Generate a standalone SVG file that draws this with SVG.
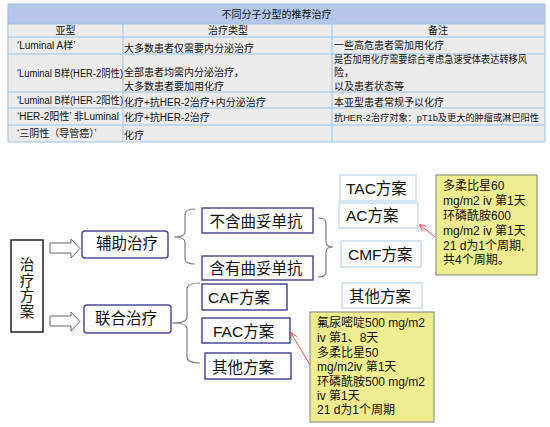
<svg xmlns="http://www.w3.org/2000/svg" width="550" height="427" viewBox="0 0 550 427">
<defs>
<style>
.t{font-family:"Liberation Sans","Noto Sans CJK SC",sans-serif;font-size:10px;fill:#111}
.t9{font-family:"Liberation Sans","Noto Sans CJK SC",sans-serif;font-size:9px;fill:#111}
.b{font-family:"Liberation Sans","Noto Sans CJK SC",sans-serif;font-size:15.5px;fill:#111}
.v{font-family:"Liberation Sans","Noto Sans CJK SC",sans-serif;font-size:14.5px;fill:#111}
.n{font-family:"Liberation Sans","Noto Sans CJK SC",sans-serif;font-size:12px;fill:#111}
.grid{stroke:#9dc3e6;stroke-width:1;fill:none}
.nb{fill:#fff;stroke:#4b4b9b;stroke-width:1.5}
.lb{fill:#fff;stroke:#c9dcf2;stroke-width:1.5}
.note{fill:#eeee90;stroke:#808080;stroke-width:1}
.br{fill:none;stroke:#7f7f7f;stroke-width:1.2}
.ha{fill:#fff;stroke:#666;stroke-width:1}
.ra{stroke:#ff4a4a;stroke-width:1;fill:none;marker-end:url(#rh)}
</style>
<marker id="rh" viewBox="0 0 10 10" refX="9" refY="5" markerWidth="7" markerHeight="7" orient="auto">
<path d="M0,0 L10,5 L0,10" fill="none" stroke="#ff4a4a" stroke-width="1.3"/>
</marker>
</defs>
<rect width="550" height="427" fill="#fff"/>
<g id="table">
<rect x="8" y="4" width="537" height="20" fill="#b4c7e7"/>
<rect x="8" y="24" width="537" height="118" fill="#ececec"/>
<path class="grid" d="M8,4H545V142H8Z M8,24H545 M8,37H545 M8,54H545 M8,92H545 M8,108H545 M8,125H545 M123,24V142 M332,24V142"/>
<text class="t" x="276.5" y="18" text-anchor="middle">不同分子分型的推荐治疗</text>
<text class="t" x="65.5" y="34" text-anchor="middle">亚型</text>
<text class="t" x="228" y="34" text-anchor="middle">治疗类型</text>
<text class="t" x="438" y="34" text-anchor="middle">备注</text>
<text class="t" x="17" y="49">‘Luminal A样’</text>
<text class="t" x="124" y="52">大多数患者仅需要内分泌治疗</text>
<text class="t" x="334" y="49">一些高危患者需加用化疗</text>
<text class="t" x="17" y="77" textLength="106" lengthAdjust="spacingAndGlyphs">‘Luminal B样(HER-2阴性)</text>
<text class="t" x="124" y="76">全部患者均需内分泌治疗，</text>
<text class="t" x="124" y="90">大多数患者要加用化疗</text>
<text class="t" x="334" y="63" textLength="193" lengthAdjust="spacingAndGlyphs">是否加用化疗需要综合考虑急速受体表达转移风</text>
<text class="t" x="334" y="76">险，</text>
<text class="t" x="334" y="90">以及患者状态等</text>
<text class="t" x="17" y="104" textLength="106" lengthAdjust="spacingAndGlyphs">‘Luminal B样(HER-2阳性)</text>
<text class="t" x="124" y="106">化疗+抗HER-2治疗+内分泌治疗</text>
<text class="t" x="334" y="106">本亚型患者常规予以化疗</text>
<text class="t" x="17" y="120">‘HER-2阳性’ 非Luminal</text>
<text class="t" x="124" y="121">化疗+抗HER-2治疗</text>
<text class="t9" x="334" y="121" textLength="205" lengthAdjust="spacingAndGlyphs">抗HER-2治疗对象：pT1b及更大的肿瘤或淋巴阳性</text>
<text class="t" x="17" y="137">‘三阴性（导管癌）’</text>
<text class="t" x="124" y="139">化疗</text>
</g>
<g id="connectors">
<polygon class="ha" points="50,243 71,243 71,239 80,248.5 71,258 71,253 50,253"/>
<polygon class="ha" points="50,316 71,316 71,312 80,321.5 71,331 71,326 50,326"/>
<path class="br" d="M195,209 Q185,209 185,214 L185,232 Q185,237 174,237 Q185,237 185,242 L185,259 Q185,264 195,264"/>
<path class="br" d="M318,218 Q326,218 326,223 L326,242 Q326,247 333,247 Q326,247 326,252 L326,272 Q326,277 318,277"/>
<path class="br" d="M200,283 Q187,283 187,289 L187,317 Q187,323 172,323 Q187,323 187,329 L187,357 Q187,363 200,363"/>
<path class="ra" d="M435,237 L420,225"/>
<path class="ra" d="M310,365 L291,333"/>
</g>
<g id="n-main">
<rect x="11" y="240" width="32" height="92" fill="#fff" stroke="#222" stroke-width="1.5"/>
<text class="v" x="27" y="270" text-anchor="middle">治</text>
<text class="v" x="27" y="285.5" text-anchor="middle">疗</text>
<text class="v" x="27" y="301" text-anchor="middle">方</text>
<text class="v" x="27" y="316.5" text-anchor="middle">案</text>
</g>
<g id="n-fuzhu"><rect class="nb" x="82" y="231" width="86" height="27" rx="3"/><text class="b" x="127" y="249" text-anchor="middle">辅助治疗</text></g>
<g id="n-lianhe"><rect class="nb" x="84" y="305" width="87" height="28" rx="3"/><text class="b" x="126" y="324" text-anchor="middle">联合治疗</text></g>
<g id="n-buhan"><rect class="nb" x="202" y="208" width="111" height="25"/><text class="b" x="256" y="227" text-anchor="middle">不含曲妥单抗</text></g>
<g id="n-hanyou"><rect class="nb" x="202" y="256" width="111" height="24"/><text class="b" x="256" y="274" text-anchor="middle">含有曲妥单抗</text></g>
<g id="n-tac"><rect class="lb" x="340" y="175" width="76" height="26"/><text class="b" x="346" y="194">TAC方案</text></g>
<g id="n-ac"><rect class="lb" x="339" y="203" width="79" height="25"/><text class="b" x="346" y="221">AC方案</text></g>
<g id="n-cmf"><rect class="lb" x="341" y="241" width="80" height="26"/><text class="b" x="348" y="260">CMF方案</text></g>
<g id="n-other-r"><rect class="lb" x="342" y="283" width="80" height="25"/><text class="b" x="349" y="302">其他方案</text></g>
<g id="n-caf"><rect class="nb" x="202" y="284" width="85" height="26"/><text class="b" x="208" y="303">CAF方案</text></g>
<g id="n-fac"><rect class="nb" x="202" y="318" width="88" height="25"/><text class="b" x="213" y="337">FAC方案</text></g>
<g id="n-other-l"><rect class="nb" x="205" y="353" width="86" height="26"/><text class="b" x="212" y="373">其他方案</text></g>
<g id="note-ac">
<rect class="note" x="436" y="175" width="101" height="100"/>
<text class="n" x="443" y="190">多柔比星60</text>
<text class="n" x="443" y="205">mg/m2 iv 第1天</text>
<text class="n" x="443" y="220">环磷酰胺600</text>
<text class="n" x="443" y="235">mg/m2 iv 第1天</text>
<text class="n" x="443" y="249.5">21 d为1个周期,</text>
<text class="n" x="443" y="264">共4个周期。</text>
</g>
<g id="note-fac">
<rect class="note" x="310" y="312" width="124" height="110"/>
<text class="n" x="317" y="327">氟尿嘧啶500 mg/m2</text>
<text class="n" x="317" y="342">iv 第1、8天</text>
<text class="n" x="317" y="357">多柔比星50</text>
<text class="n" x="317" y="371">mg/m2iv 第1天</text>
<text class="n" x="317" y="385.5">环磷酰胺500 mg/m2</text>
<text class="n" x="317" y="400">iv 第1天</text>
<text class="n" x="317" y="414">21 d为1个周期</text>
</g>
</svg>
